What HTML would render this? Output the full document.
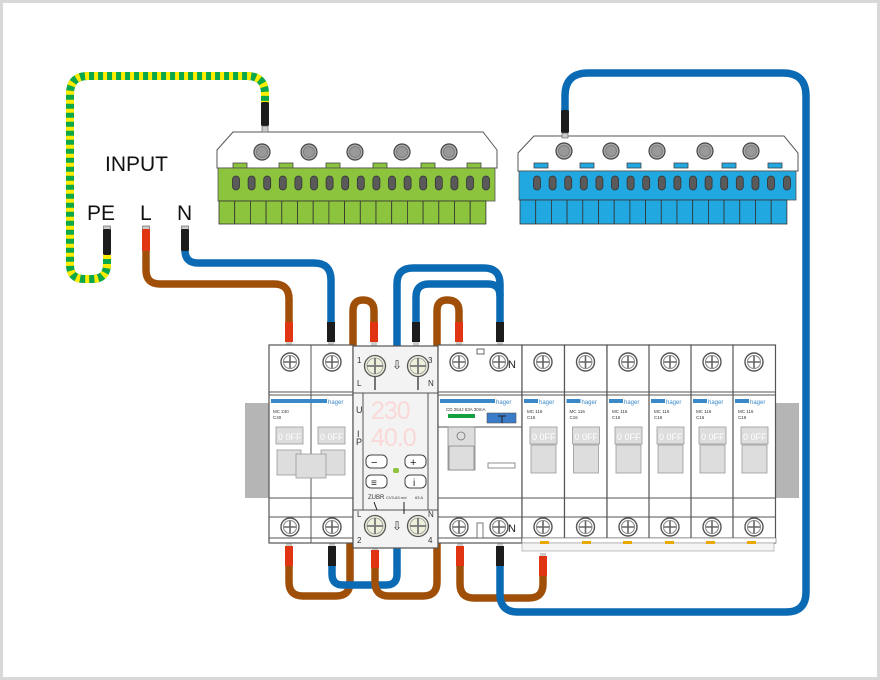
<!DOCTYPE html>
<html><head><meta charset="utf-8">
<style>
html,body{margin:0;padding:0;background:#fff;}
svg{display:block;}
text{font-family:"Liberation Sans",sans-serif;}
</style></head>
<body>
<svg width="880" height="680" viewBox="0 0 880 680" xmlns="http://www.w3.org/2000/svg">
<defs>
  <g id="screw">
    <circle r="9" fill="#fff" stroke="#555" stroke-width="1.4"/>
    <circle r="6.5" fill="#fff" stroke="#888" stroke-width="1"/>
    <path d="M-6,0H6M0,-6V6" stroke="#666" stroke-width="1.6"/>
  </g>
  <g id="mscrew">
    <circle r="10.5" fill="#eef0dc" stroke="#555" stroke-width="1.3"/>
    <circle r="8" fill="none" stroke="#999" stroke-width="0.8"/>
    <path d="M-8,0H8M0,-8V8" stroke="#777" stroke-width="1.8"/>
  </g>
  <g id="bscrew">
    <circle r="8" fill="#aaa" stroke="#444" stroke-width="1.2"/>
    <circle r="5.5" fill="#999" stroke="#777" stroke-width="0.8"/>
  </g>
  <g id="slot"><rect x="-3.5" y="-7" width="7" height="14" rx="3.5" fill="#5a5a5a" stroke="#333" stroke-width="0.8"/></g>
  <g id="mcb">
    <rect x="0" y="345" width="42.5" height="198" fill="#fff" stroke="#555" stroke-width="1.2"/>
    <use href="#screw" x="21" y="362"/>
    <path d="M0,392H42.5M0,395H42.5M0,498H42.5M0,517H42.5M0,538H42.5" stroke="#555" stroke-width="1"/>
    <rect x="2" y="399" width="14" height="4" fill="#3a88c8"/>
    <text x="17" y="404" font-size="6" fill="#3a88c8">hager</text>
    <text x="5" y="413" font-size="4.5" fill="#333">MC 116</text>
    <text x="5" y="419" font-size="4.5" fill="#333">C16</text>
    <rect x="8" y="427" width="27" height="17" fill="#ddd" stroke="#999" stroke-width="0.8"/>
    <text x="10" y="440" font-size="9" fill="#fff">0 0FF</text>
    <rect x="9" y="445" width="25" height="28" fill="#ddd" stroke="#999" stroke-width="0.8"/>
    <use href="#screw" x="21" y="527"/>
  </g>
</defs>

<rect x="1.5" y="1.5" width="877" height="677" fill="#fff" stroke="#d8d8d8" stroke-width="3"/>

<rect x="245" y="403" width="24" height="95" fill="#b5b5b5"/>
<rect x="775" y="403" width="24" height="95" fill="#b5b5b5"/>

<!-- green terminal block -->
<g>
  <path d="M233,132H483L497,150V168H217V150Z" fill="#fff" stroke="#555" stroke-width="1"/>
  <g fill="#8cc43e" stroke="#444" stroke-width="0.8">
    <rect x="233" y="163" width="14" height="5"/><rect x="279" y="163" width="14" height="5"/><rect x="326" y="163" width="14" height="5"/><rect x="373" y="163" width="14" height="5"/><rect x="421" y="163" width="14" height="5"/><rect x="467" y="163" width="14" height="5"/>
  </g>
  <use href="#bscrew" x="262" y="152"/><use href="#bscrew" x="309" y="152"/><use href="#bscrew" x="355" y="152"/><use href="#bscrew" x="402" y="152"/><use href="#bscrew" x="449" y="152"/>
  <rect x="218" y="168" width="277" height="33" fill="#8cc43e" stroke="#555" stroke-width="0.8"/>
  <g fill="#8cc43e" stroke="#333" stroke-width="0.8">
    <rect x="219" y="201" width="15.7" height="23"/><rect x="234.7" y="201" width="15.7" height="23"/><rect x="250.4" y="201" width="15.7" height="23"/><rect x="266.1" y="201" width="15.7" height="23"/><rect x="281.8" y="201" width="15.7" height="23"/><rect x="297.5" y="201" width="15.7" height="23"/><rect x="313.2" y="201" width="15.7" height="23"/><rect x="328.9" y="201" width="15.7" height="23"/><rect x="344.6" y="201" width="15.7" height="23"/><rect x="360.3" y="201" width="15.7" height="23"/><rect x="376" y="201" width="15.7" height="23"/><rect x="391.7" y="201" width="15.7" height="23"/><rect x="407.4" y="201" width="15.7" height="23"/><rect x="423.1" y="201" width="15.7" height="23"/><rect x="438.8" y="201" width="15.7" height="23"/><rect x="454.5" y="201" width="15.7" height="23"/><rect x="470.2" y="201" width="15.7" height="23"/>
  </g>
  <g>
    <use href="#slot" x="236" y="183"/><use href="#slot" x="251.6" y="183"/><use href="#slot" x="267.2" y="183"/><use href="#slot" x="282.8" y="183"/><use href="#slot" x="298.4" y="183"/><use href="#slot" x="314" y="183"/><use href="#slot" x="329.6" y="183"/><use href="#slot" x="345.2" y="183"/><use href="#slot" x="360.8" y="183"/><use href="#slot" x="376.4" y="183"/><use href="#slot" x="392" y="183"/><use href="#slot" x="407.6" y="183"/><use href="#slot" x="423.2" y="183"/><use href="#slot" x="438.8" y="183"/><use href="#slot" x="454.4" y="183"/><use href="#slot" x="470" y="183"/><use href="#slot" x="486" y="183"/>
  </g>
</g>

<!-- blue terminal block -->
<g transform="translate(301,3)">
  <path d="M233,133H483L497,150V168H217V150Z" fill="#fff" stroke="#555" stroke-width="1"/>
  <g fill="#22a8e0" stroke="#444" stroke-width="0.8">
    <rect x="233" y="160" width="14" height="5"/><rect x="279" y="160" width="14" height="5"/><rect x="326" y="160" width="14" height="5"/><rect x="373" y="160" width="14" height="5"/><rect x="421" y="160" width="14" height="5"/><rect x="467" y="160" width="14" height="5"/>
  </g>
  <use href="#bscrew" x="263" y="148"/><use href="#bscrew" x="310" y="148"/><use href="#bscrew" x="356" y="148"/><use href="#bscrew" x="404" y="148"/><use href="#bscrew" x="450" y="148"/>
  <rect x="218" y="168" width="277" height="29" fill="#22a8e0" stroke="#555" stroke-width="0.8"/>
  <g fill="#22a8e0" stroke="#333" stroke-width="0.8">
    <rect x="219" y="197" width="15.7" height="24"/><rect x="234.7" y="197" width="15.7" height="24"/><rect x="250.4" y="197" width="15.7" height="24"/><rect x="266.1" y="197" width="15.7" height="24"/><rect x="281.8" y="197" width="15.7" height="24"/><rect x="297.5" y="197" width="15.7" height="24"/><rect x="313.2" y="197" width="15.7" height="24"/><rect x="328.9" y="197" width="15.7" height="24"/><rect x="344.6" y="197" width="15.7" height="24"/><rect x="360.3" y="197" width="15.7" height="24"/><rect x="376" y="197" width="15.7" height="24"/><rect x="391.7" y="197" width="15.7" height="24"/><rect x="407.4" y="197" width="15.7" height="24"/><rect x="423.1" y="197" width="15.7" height="24"/><rect x="438.8" y="197" width="15.7" height="24"/><rect x="454.5" y="197" width="15.7" height="24"/><rect x="470.2" y="197" width="15.7" height="24"/>
  </g>
  <g>
    <use href="#slot" x="236" y="180"/><use href="#slot" x="251.6" y="180"/><use href="#slot" x="267.2" y="180"/><use href="#slot" x="282.8" y="180"/><use href="#slot" x="298.4" y="180"/><use href="#slot" x="314" y="180"/><use href="#slot" x="329.6" y="180"/><use href="#slot" x="345.2" y="180"/><use href="#slot" x="360.8" y="180"/><use href="#slot" x="376.4" y="180"/><use href="#slot" x="392" y="180"/><use href="#slot" x="407.6" y="180"/><use href="#slot" x="423.2" y="180"/><use href="#slot" x="438.8" y="180"/><use href="#slot" x="454.4" y="180"/><use href="#slot" x="470" y="180"/><use href="#slot" x="486" y="180"/>
  </g>
</g>

<text x="105" y="171" font-size="21" fill="#111">INPUT</text>
<text x="87" y="220" font-size="21" fill="#111">PE</text>
<text x="140" y="220" font-size="21" fill="#111">L</text>
<text x="177" y="220" font-size="21" fill="#111">N</text>

<!-- PE wire -->
<g fill="none" stroke-linecap="butt" stroke-linejoin="round">
  <path d="M107,255V264Q107,279 92,279H84Q70,279 70,265V94Q70,76 88,76H247Q265,76 265,94V105" stroke="#0aa84a" stroke-width="8"/>
  <path d="M107,255V264Q107,279 92,279H84Q70,279 70,265V94Q70,76 88,76H247Q265,76 265,94V105" stroke="#ffec00" stroke-width="8" stroke-dasharray="4 5"/>
</g>

<g fill="none" stroke-width="7.5" stroke-linejoin="round">
  <path d="M146,250V270Q146,284 160,284H274Q289,284 289,299V325" stroke="#a04f08"/>
  <path d="M185,250V250Q185,263 198,263H314Q331,263 331,280V325" stroke="#0a6ab4"/>
  <path d="M353,350V311Q353,300 363,300Q374,300 374,311V325" stroke="#a04f08"/>
  <path d="M437,350V311Q437,300 447,300Q459,300 459,311V325" stroke="#a04f08"/>
  <path d="M397,350V284Q397,268 413,268H484Q500,268 500,284V325" stroke="#0a6ab4"/>
  <path d="M416,325V297Q416,284 429,284H488Q500,284 500,296" stroke="#0a6ab4"/>
  <path d="M289,560V582Q289,596 303,596H336Q350,596 350,582V540" stroke="#a04f08"/>
  <path d="M332,560V574Q332,585 343,585H386Q397,585 397,574V540" stroke="#0a6ab4"/>
  <path d="M375,560V582Q375,596 389,596H423Q437,596 437,582V540" stroke="#a04f08"/>
  <path d="M460,560V584Q460,598 474,598H529Q543,598 543,584V572" stroke="#a04f08"/>
  <path d="M500,560V594Q500,612 518,612H786Q806,612 806,592V96Q806,73 783,73H588Q565,73 565,96V112" stroke="#0a6ab4"/>
</g>

<g>
  <rect x="103.5" y="226" width="7" height="4" fill="#ccc" stroke="#555" stroke-width="0.6"/>
  <rect x="103" y="229" width="8" height="26" rx="1.5" fill="#1c1c1c"/>
  <rect x="142.5" y="226" width="7" height="4" fill="#ccc" stroke="#555" stroke-width="0.6"/>
  <rect x="142" y="229" width="8" height="22" rx="1.5" fill="#e03412"/>
  <rect x="181.5" y="226" width="7" height="4" fill="#ccc" stroke="#555" stroke-width="0.6"/>
  <rect x="181" y="229" width="8" height="22" rx="1.5" fill="#1c1c1c"/>
  <rect x="261" y="102" width="8" height="24" rx="1.5" fill="#1c1c1c"/>
  <rect x="262" y="126" width="6" height="6" fill="#ccc" stroke="#555" stroke-width="0.6"/>
  <rect x="561" y="110" width="8" height="23" rx="1.5" fill="#1c1c1c"/>
  <rect x="562" y="133" width="6" height="5" fill="#ccc" stroke="#555" stroke-width="0.6"/>
  <rect x="285" y="322" width="8" height="20" fill="#e03412"/><rect x="286" y="342" width="6" height="4" fill="#ccc"/>
  <rect x="327" y="322" width="8" height="20" fill="#1c1c1c"/><rect x="328" y="342" width="6" height="4" fill="#ccc"/>
  <rect x="370" y="322" width="8" height="20" fill="#e03412"/><rect x="371" y="342" width="6" height="4" fill="#ccc"/>
  <rect x="412" y="322" width="8" height="20" fill="#1c1c1c"/><rect x="413" y="342" width="6" height="4" fill="#ccc"/>
  <rect x="455" y="322" width="8" height="20" fill="#e03412"/><rect x="456" y="342" width="6" height="4" fill="#ccc"/>
  <rect x="496" y="322" width="8" height="20" fill="#1c1c1c"/><rect x="497" y="342" width="6" height="4" fill="#ccc"/>
  <rect x="286" y="543" width="6" height="4" fill="#ccc"/><rect x="285" y="546" width="8" height="20" fill="#e03412"/>
  <rect x="329" y="543" width="6" height="4" fill="#ccc"/><rect x="328" y="546" width="8" height="20" fill="#1c1c1c"/>
  <rect x="372" y="547" width="6" height="4" fill="#ccc"/><rect x="371" y="550" width="8" height="18" fill="#e03412"/>
  <rect x="457" y="543" width="6" height="4" fill="#ccc"/><rect x="456" y="546" width="8" height="20" fill="#e03412"/>
  <rect x="497" y="543" width="6" height="4" fill="#ccc"/><rect x="496" y="546" width="8" height="20" fill="#1c1c1c"/>
  <rect x="540" y="553" width="6" height="4" fill="#ccc"/><rect x="539" y="556" width="8" height="20" fill="#e03412"/>
</g>

<!-- left 2-pole MCB -->
<g>
  <rect x="269" y="345" width="84" height="198" fill="#fff" stroke="#555" stroke-width="1.2"/>
  <path d="M311,345V543" stroke="#555" stroke-width="1"/>
  <use href="#screw" x="290" y="362"/><use href="#screw" x="332" y="362"/>
  <path d="M269,392H353M269,395H353M269,498H353M269,517H353M269,538H353" stroke="#555" stroke-width="1"/>
  <rect x="271" y="399" width="56" height="4" fill="#3a88c8"/>
  <text x="328" y="404" font-size="6" fill="#3a88c8">hager</text>
  <text x="273" y="413" font-size="4.5" fill="#333">MC 240</text>
  <text x="273" y="419" font-size="4.5" fill="#333">C40</text>
  <rect x="276" y="427" width="27" height="17" fill="#ddd" stroke="#999" stroke-width="0.8"/>
  <rect x="318" y="427" width="27" height="17" fill="#ddd" stroke="#999" stroke-width="0.8"/>
  <text x="278" y="440" font-size="9" fill="#fff">0 0FF</text>
  <text x="320" y="440" font-size="9" fill="#fff">0 0FF</text>
  <rect x="277" y="450" width="24" height="25" fill="#ddd" stroke="#999" stroke-width="0.8"/>
  <rect x="321" y="450" width="24" height="25" fill="#ddd" stroke="#999" stroke-width="0.8"/>
  <rect x="296" y="454" width="30" height="24" fill="#ddd" stroke="#999" stroke-width="0.8"/>
  <use href="#screw" x="290" y="527"/><use href="#screw" x="332" y="527"/>
</g>

<!-- meter -->
<g>
  <rect x="353" y="346" width="85" height="202" fill="#f3f3f3" stroke="#555" stroke-width="1.2"/>
  <path d="M353,393H438M353,510H438M363,393V510M428,393V510" stroke="#555" stroke-width="1"/>
  <use href="#mscrew" x="375" y="366"/><use href="#mscrew" x="418" y="366"/>
  <text x="357" y="363" font-size="8" fill="#333">1</text>
  <text x="428" y="363" font-size="8" fill="#333">3</text>
  <text x="357" y="386" font-size="8" fill="#333">L</text>
  <text x="428" y="386" font-size="8" fill="#333">N</text>
  <text x="392" y="369" font-size="12" fill="#333">⇩</text>
  <path d="M375,377V390M418,377V390" stroke="#222" stroke-width="1.2"/>
  <text x="356" y="413" font-size="9" fill="#333">U</text>
  <text x="357" y="437" font-size="9" fill="#333">I</text>
  <text x="356" y="445" font-size="9" fill="#333">P</text>
  <text x="371" y="419" font-size="25" fill="#fbd8d8" letter-spacing="-1">230</text>
  <text x="371" y="446" font-size="25" fill="#fbd8d8" letter-spacing="-1">40.0</text>
  <rect x="366" y="455" width="21" height="13" rx="5" fill="#fff" stroke="#444" stroke-width="1"/>
  <rect x="405" y="455" width="21" height="13" rx="5" fill="#fff" stroke="#444" stroke-width="1"/>
  <rect x="366" y="475" width="21" height="13" rx="5" fill="#fff" stroke="#444" stroke-width="1"/>
  <rect x="405" y="475" width="21" height="13" rx="5" fill="#fff" stroke="#444" stroke-width="1"/>
  <text x="371" y="466" font-size="11" fill="#222">−</text>
  <text x="410" y="466" font-size="11" fill="#222">+</text>
  <text x="371" y="486" font-size="10" fill="#222">≡</text>
  <text x="413" y="486" font-size="10" fill="#222">i</text>
  <rect x="393" y="468" width="6" height="5" rx="2" fill="#8cc43e"/>
  <text x="368" y="499" font-size="6" fill="#333">ZUBR</text>
  <text x="386" y="499" font-size="4" fill="#333">CV3-63 red</text>
  <text x="415" y="499" font-size="4" fill="#333">63 A</text>
  <use href="#mscrew" x="375" y="526"/><use href="#mscrew" x="418" y="526"/>
  <text x="357" y="517" font-size="8" fill="#333">L</text>
  <text x="428" y="517" font-size="8" fill="#333">N</text>
  <text x="357" y="543" font-size="8" fill="#333">2</text>
  <text x="428" y="543" font-size="8" fill="#333">4</text>
  <text x="392" y="530" font-size="12" fill="#333">⇩</text>
  <path d="M374,502L377,510M404,502V514" stroke="#222" stroke-width="1"/>
</g>

<!-- RCD -->
<g>
  <rect x="438" y="345" width="84" height="198" fill="#fff" stroke="#555" stroke-width="1.2"/>
  <path d="M438,392H522M438,395H522M438,498H522M438,517H522M438,538H522" stroke="#555" stroke-width="1"/>
  <rect x="477" y="349" width="7" height="5" fill="#fff" stroke="#444" stroke-width="0.8"/>
  <use href="#screw" x="459" y="362"/><use href="#screw" x="499" y="362"/>
  <text x="508" y="368" font-size="11" fill="#222">N</text>
  <rect x="440" y="399" width="55" height="4" fill="#3a88c8"/>
  <text x="496" y="404" font-size="6" fill="#3a88c8">hager</text>
  <text x="446" y="411" font-size="4.5" fill="#333">CD 264J 63A 30mA</text>
  <rect x="448" y="414" width="27" height="4" fill="#17a040"/>
  <rect x="487" y="413" width="29" height="10" fill="#3a7cc8" stroke="#555" stroke-width="0.6"/>
  <path d="M498,416H506M502,416V423" stroke="#222" stroke-width="1"/>
  <path d="M438,427H522" stroke="#555" stroke-width="1"/>
  <rect x="448" y="427" width="27" height="43" fill="#ddd" stroke="#888" stroke-width="0.8"/>
  <circle cx="461" cy="436" r="4" fill="#ddd" stroke="#777" stroke-width="0.8"/>
  <rect x="449" y="446" width="25" height="24" fill="#ddd" stroke="#888" stroke-width="0.8"/>
  <rect x="488" y="463" width="27" height="5" fill="#fff" stroke="#777" stroke-width="0.8"/>
  <use href="#screw" x="459" y="527"/><use href="#screw" x="499" y="527"/>
  <text x="508" y="532" font-size="11" fill="#222">N</text>
  <rect x="477" y="523" width="6" height="15" fill="#fff" stroke="#555" stroke-width="0.8"/>
</g>

<use href="#mcb" x="522"/>
<use href="#mcb" x="564.5"/>
<use href="#mcb" x="607"/>
<use href="#mcb" x="649"/>
<use href="#mcb" x="691"/>
<use href="#mcb" x="733"/>
<rect x="522" y="538" width="254" height="5" fill="#fff" stroke="#777" stroke-width="0.6"/>
<rect x="522" y="543" width="252" height="8" fill="#f4f4f4" stroke="#999" stroke-width="0.6"/>
<g fill="#e8a800">
  <rect x="540" y="541" width="9" height="3"/><rect x="582" y="541" width="9" height="3"/><rect x="623" y="541" width="9" height="3"/><rect x="665" y="541" width="9" height="3"/><rect x="706" y="541" width="9" height="3"/><rect x="747" y="541" width="9" height="3"/>
</g>
</svg>
</body></html>
